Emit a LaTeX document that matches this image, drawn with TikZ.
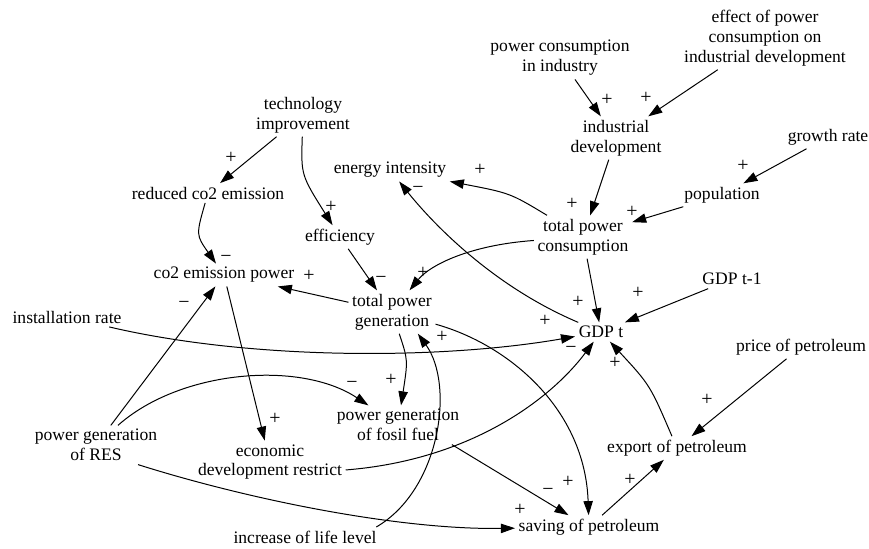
\documentclass[tikz,border=0pt]{standalone}
\usepackage{fontspec}
\setmainfont{Liberation Serif}
\usetikzlibrary{arrows.meta}

\begin{document}
\begin{tikzpicture}[x=0.03cm, y=-0.03cm,
  var/.style={inner sep=3pt, align=center, font=\fontsize{15}{17}\selectfont},
  sign/.style={inner sep=0pt, font=\fontsize{17}{17}\selectfont},
  link/.style={-{Triangle[length=12pt,width=8pt]}, line width=0.85pt}
]
  \useasboundingbox (0,0) rectangle (869,548);

  % Upper variables
  \node[var] (pcind) at (560,58) {power consumption\\in industry};
  \node[var] (effect) at (765,38) {effect of power\\consumption on\\industrial development};
  \node[var] (inddev) at (616,138) {industrial\\development};
  \node[var] (growth) at (828,137) {growth rate};
  \node[var] (pop) at (722,195) {population};
  \node[var] (totcons) at (583,237) {total power\\consumption};
  \node[var] (techimp) at (303,115) {technology\\improvement};
  \node[var] (redco2) at (208,193) {reduced co2 emission};
  \node[var] (enint) at (390,170) {energy intensity};
  \node[var] (eff) at (340,237) {efficiency};

  % Middle variables
  \node[var] (co2pow) at (224,275) {co2 emission power};
  \node[var] (totgen) at (392,312) {total power\\generation};
  \node[var] (instrate) at (67,317) {installation rate};
  \node[var] (gdpt) at (601,332) {GDP t};
  \node[var] (gdpt1) at (732,279) {GDP t-1};
  \node[var] (price) at (801,347) {price of petroleum};

  % Lower variables
  \node[var] (res) at (96,445) {power generation\\of RES};
  \node[var] (econ) at (270,462) {economic\\development restrict};
  \node[var] (fosil) at (398,425) {power generation\\of fosil fuel};
  \node[var] (export) at (677,448) {export of petroleum};
  \node[var] (saving) at (589,527) {saving of petroleum};
  \node[var] (life) at (305,537) {increase of life level};

  % Links
  \draw[link] (techimp) -- (redco2);
  \draw[link] (techimp) .. controls (301,175) .. (eff);
  \draw[link] (redco2) .. controls (196,235) .. (co2pow);
  \draw[link] (eff) -- (totgen);
  \draw[link] (totcons) .. controls (470,245) and (430,265) .. (totgen);
  \draw[link] (totcons) .. controls (510,193) .. (enint);
  \draw[link] (inddev) -- (totcons);
  \draw[link] (pcind) -- (inddev);
  \draw[link] (effect) -- (inddev);
  \draw[link] (growth) -- (pop);
  \draw[link] (pop) -- (totcons);
  \draw[link] (totcons) -- (gdpt);
  \draw[link] (gdpt) .. controls (490,285) and (430,220) .. (enint);
  \draw[link] (gdpt1) -- (gdpt);
  \draw[link] (instrate) .. controls (250,360) and (440,360) .. (gdpt);
  \draw[link] (totgen) -- (co2pow.-12);
  \draw[link] (totgen) .. controls (510,345) and (585,410) .. (saving);
  \draw[link] (totgen) .. controls (408,360) .. (fosil);
  \draw[link] (life.8) .. controls (440,490) and (455,385) .. (totgen.-40);
  \draw[link] (res) -- (co2pow);
  \draw[link] (res) .. controls (180,370) and (300,360) .. (fosil);
  \draw[link] (co2pow) -- (econ);
  \draw[link] (econ.-6) .. controls (470,460) and (550,400) .. (gdpt);
  \draw[link] (res.-25) .. controls (250,500) and (400,530) .. (saving);
  \draw[link] (fosil.-20) -- (saving.150);
  \draw[link] (saving) -- (export);
  \draw[link] (export) .. controls (650,385) .. (gdpt);
  \draw[link] (price) -- (export);

  % Polarity signs
  \node[sign] (s1) at (231,158) {+};
  \node[sign] (s2) at (331,207) {+};
  \node[sign] (s3) at (226,259) {−};
  \node[sign] (s4) at (381,280) {−};
  \node[sign] (s5) at (423,273) {+};
  \node[sign] (s6) at (480,170) {+};
  \node[sign] (s7) at (572,204) {+};
  \node[sign] (s8) at (607,100) {+};
  \node[sign] (s9) at (646,98) {+};
  \node[sign] (s10) at (743,166) {+};
  \node[sign] (s11) at (632,212) {+};
  \node[sign] (s12) at (578,302) {+};
  \node[sign] (s13) at (418,190) {−};
  \node[sign] (s14) at (638,293) {+};
  \node[sign] (s15) at (545,321) {+};
  \node[sign] (s16) at (309,276) {+};
  \node[sign] (s17) at (568,482) {+};
  \node[sign] (s18) at (391,380) {+};
  \node[sign] (s19) at (442,337) {+};
  \node[sign] (s20) at (184,305) {−};
  \node[sign] (s21) at (352,385) {−};
  \node[sign] (s22) at (275,419) {+};
  \node[sign] (s23) at (571,350) {−};
  \node[sign] (s24) at (520,510) {+};
  \node[sign] (s25) at (548,492) {−};
  \node[sign] (s26) at (630,480) {+};
  \node[sign] (s27) at (615,363) {+};
  \node[sign] (s28) at (707,400) {+};
\end{tikzpicture}
\end{document}
